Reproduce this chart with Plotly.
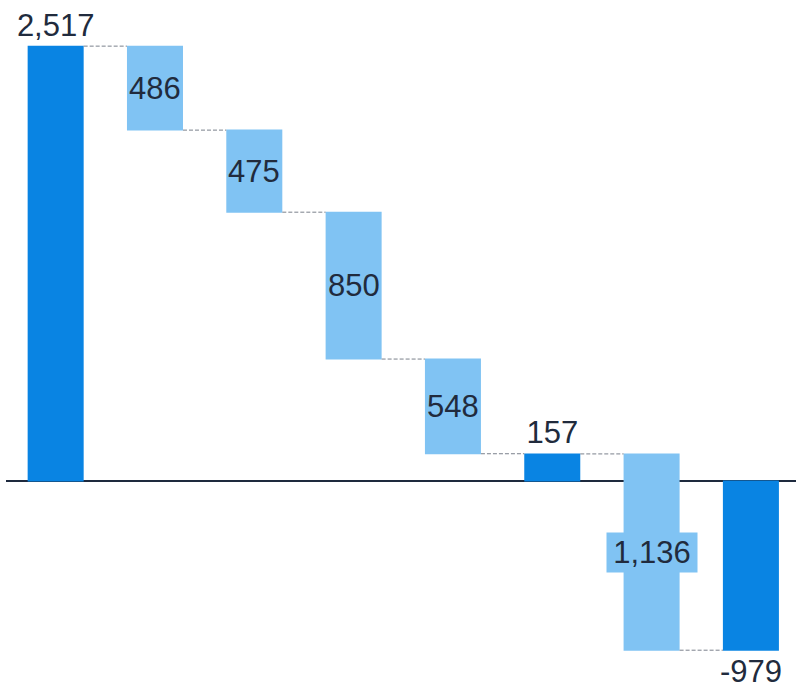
import plotly.graph_objects as go

# Waterfall data
categories = ["Start", "Step A", "Step B", "Step C", "Step D", "Subtotal", "Step E", "End"]
values = [2517, -486, -475, -850, -548, 157, -1136, -979]
measures = ["absolute", "relative", "relative", "relative", "relative", "absolute", "relative", "absolute"]
labels = ["2,517", "486", "475", "850", "548", "157", "1,136", "-979"]

TOTAL_COLOR = "#0984E3"
DECREASE_COLOR = "#80C3F3"
TEXT_COLOR = "#212B3D"
FONT = "Liberation Sans, Arial, sans-serif"
FONT_SIZE = 31
BAR_WIDTH = 0.564

xs = list(range(len(categories)))

# Outside labels for the total bars, annotations for the step bars
text_pos = ["outside" if m == "absolute" else "none" for m in measures]
trace_text = [lab if m == "absolute" else "" for lab, m in zip(labels, measures)]

fig = go.Figure(go.Waterfall(
    x=xs,
    y=values,
    measure=measures,
    text=trace_text,
    textposition=text_pos,
    textfont=dict(family=FONT, size=FONT_SIZE, color=TEXT_COLOR),
    constraintext="none",
    width=BAR_WIDTH,
    decreasing=dict(marker=dict(color=DECREASE_COLOR)),
    increasing=dict(marker=dict(color=DECREASE_COLOR)),
    totals=dict(marker=dict(color=TOTAL_COLOR)),
    connector=dict(line=dict(color="#7A808B", width=1, dash="4px,2px")),
    cliponaxis=False,
    hoverinfo="skip",
))

# Centered labels on each step bar; labels too wide for the bar get a
# bar-colored box behind the text
annotations = []
level = 0
for i, (v, m, lab) in enumerate(zip(values, measures, labels)):
    if m == "absolute":
        level = v
        continue
    start, end = level, level + v
    level = end
    ann = dict(
        x=xs[i], y=(start + end) / 2, xref="x", yref="y",
        text=lab, showarrow=False,
        font=dict(family=FONT, size=FONT_SIZE, color=TEXT_COLOR),
        align="center", valign="middle",
    )
    if len(lab) > 3:
        ann.update(bgcolor=DECREASE_COLOR, borderpad=2, width=86, height=35)
    annotations.append(ann)

fig.update_layout(
    width=796, height=687,
    margin=dict(l=6, r=0, t=0, b=0),
    paper_bgcolor="white", plot_bgcolor="white",
    showlegend=False,
    annotations=annotations,
    xaxis=dict(range=[-0.5, 7.454], showgrid=False, zeroline=False,
               showticklabels=False, ticks="", showline=False),
    yaxis=dict(range=[-1192, 2784], showgrid=False, zeroline=True,
               zerolinecolor="#1E2A3E", zerolinewidth=2,
               showticklabels=False, ticks="", showline=False),
)

fig.write_html("out.html")
